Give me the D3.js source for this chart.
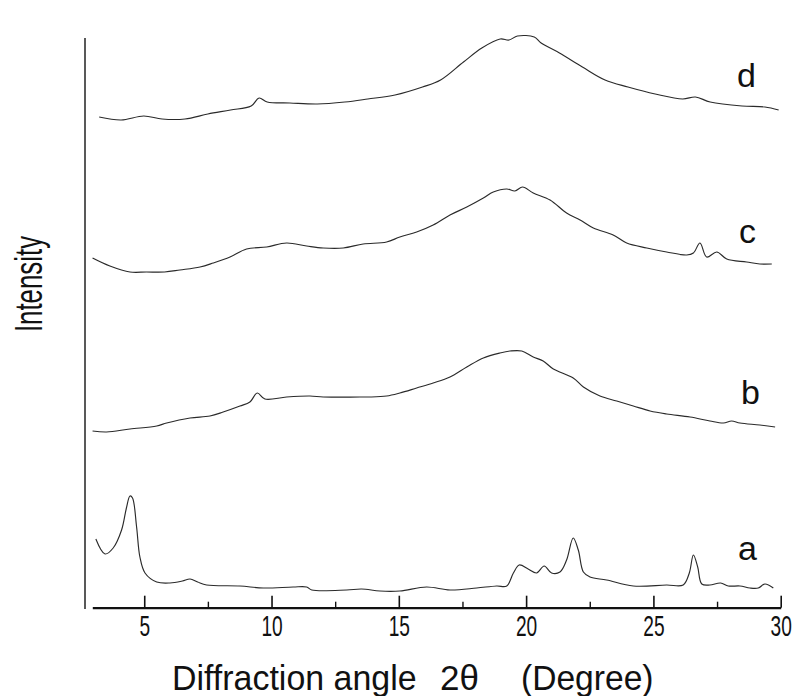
<!DOCTYPE html>
<html><head><meta charset="utf-8">
<script src="https://cdn.jsdelivr.net/npm/d3@7"></script>
<style>
html,body{margin:0;padding:0;background:#fff;}
svg{display:block;}
text{font-family:"Liberation Sans",Arial,Helvetica,sans-serif;fill:#111;}
</style></head>
<body>
<svg id="chart" width="794" height="696"></svg>
<script>
// 2θ (degree) values and intensities (a.u., curves offset as in figure)
const aX = [3.10,3.46,3.78,4.11,4.30,4.44,4.54,4.70,4.83,5.03,5.49,6.01,6.50,6.80,7.10,7.45,8.76,9.67,10.85,11.38,11.58,12.95,13.54,14.26,15.04,16.09,17.01,18.06,18.84,19.24,19.50,19.73,20.08,20.41,20.71,21.00,21.33,21.59,21.85,22.05,22.25,22.51,23.16,24.21,25.52,26.17,26.41,26.57,26.74,26.90,27.22,27.64,27.94,28.40,28.79,29.12,29.38,29.71];
const aY = [69,54,60,78,100,112,110,81,51,35,26,25,27,29,26,23,22,20,21,21,18,18,19,17,17,21,18,20,22,22,35,43,39,35,42,35,36,48,70,58,36,31,28,22,23,23,35,53,41,24,23,25,22,22,20,20,24,20];

const bX = [2.97,3.52,4.44,5.49,5.88,6.80,7.58,8.10,8.76,9.15,9.44,9.74,10.59,11.51,12.03,13.47,13.86,14.52,15.04,15.70,16.35,17.01,17.67,18.32,18.97,19.37,19.83,20.28,20.67,21.07,21.85,22.25,22.90,23.56,24.21,24.87,25.52,26.44,27.22,27.75,28.07,28.40,29.18,29.78];
const bY = [177,176,179,182,185,190,192,196,202,206,215,209,211,212,211,211,211,212,215,220,225,231,241,250,255,257,257,251,247,239,230,221,212,207,202,197,194,191,187,185,187,185,183,181];

const cX = [2.97,3.65,4.44,5.09,5.80,6.40,7.19,7.71,8.37,9.02,9.81,10.59,11.38,12.03,12.82,13.60,14.52,15.04,15.70,16.35,17.01,17.67,18.32,18.71,19.24,19.56,19.86,20.28,20.94,21.59,22.12,22.64,23.42,23.95,24.74,25.52,26.31,26.57,26.83,27.09,27.49,27.88,28.66,29.18,29.65];
const cY = [350,342,336,336,336,338,341,345,351,359,361,365,362,360,360,364,366,371,376,383,393,401,410,416,419,417,421,415,408,395,388,380,373,365,360,356,353,355,365,351,356,349,346,344,344];

const dX = [3.23,4.09,4.98,5.70,6.60,7.50,8.39,9.20,9.51,9.83,10.72,11.80,12.88,13.78,14.85,15.93,16.64,17.54,18.26,18.98,19.33,19.66,20.32,20.59,21.31,22.21,23.10,24.00,25.07,26.15,26.65,27.23,28.48,29.38,29.92];
const dY = [491,488,492,489,489,494,498,502,510,506,505,504,506,509,513,521,528,546,560,569,568,572,571,565,555,541,528,521,514,509,511,506,502,501,498];

const curveNames = ["a","b","c","d"];
const majorTicks = [5,10,15,20,25,30];
const minorTicks = [7.5,12.5,17.5,22.5,27.5];

const series = [
  {name:"a", xs:aX, ys:aY},
  {name:"b", xs:bX, ys:bY},
  {name:"c", xs:cX, ys:cY},
  {name:"d", xs:dX, ys:dY}
];

const svg = d3.select("#chart");
const x = d3.scaleLinear().domain([2.96,30]).range([92.3,780.7]);
const y = d3.scaleLinear().domain([0,600]).range([608,8]);

// y axis line (no ticks)
svg.append("line").attr("x1",85).attr("x2",85).attr("y1",38).attr("y2",609)
  .attr("stroke","#222").attr("stroke-width",1.5);

// x axis
const gx = svg.append("g").attr("transform","translate(0,607.7)");
gx.call(d3.axisBottom(x).tickValues(majorTicks).tickSizeInner(-12).tickSizeOuter(0).tickPadding(8).tickFormat(d3.format("d")));
gx.select(".domain").attr("stroke","#111").attr("stroke-width",2.2);
gx.selectAll(".tick line").attr("stroke","#111").attr("stroke-width",1.6);
gx.selectAll(".tick text").attr("font-size",29).attr("fill","#111")
  .attr("font-family","'Liberation Sans',Arial,sans-serif")
  .attr("transform","scale(0.66,1)").attr("dy","0.71em");
const gm = svg.append("g").attr("transform","translate(0,607.7)");
gm.call(d3.axisBottom(x).tickValues(minorTicks).tickSizeInner(-6).tickSizeOuter(0).tickFormat(""));
gm.select(".domain").remove();
gm.selectAll(".tick line").attr("stroke","#111").attr("stroke-width",1.4);

// curves
const line = d3.line().x(d=>x(d[0])).y(d=>y(d[1])).curve(d3.curveCatmullRom.alpha(0.5));
series.forEach(s=>{
  const pts = s.xs.map((v,i)=>[v,s.ys[i]]);
  svg.append("path").attr("d",line(pts)).attr("fill","none")
    .attr("stroke","#2a2a2a").attr("stroke-width",1.15);
});

// curve labels
const labelPos = {a:[738,560], b:[741,404], c:[739,243], d:[737,87]};
curveNames.forEach(n=>{
  svg.append("text").attr("x",labelPos[n][0]).attr("y",labelPos[n][1])
    .attr("font-size",34).text(n);
});

// axis titles
const title = svg.append("g");
title.append("text").attr("x",172).attr("y",690).attr("font-size",35).attr("transform","translate(172,0) scale(0.97,1) translate(-172,0)").text("Diffraction angle");
title.append("text").attr("x",440).attr("y",690).attr("font-size",35).text("2θ");
title.append("text").attr("x",521).attr("y",690).attr("font-size",35).attr("transform","translate(521,0) scale(0.96,1) translate(-521,0)").text("(Degree)");

svg.append("text").attr("transform","translate(42,284) rotate(-90) scale(0.68,1)")
  .attr("text-anchor","middle").attr("font-size",38).text("Intensity");
</script>
</body></html>
